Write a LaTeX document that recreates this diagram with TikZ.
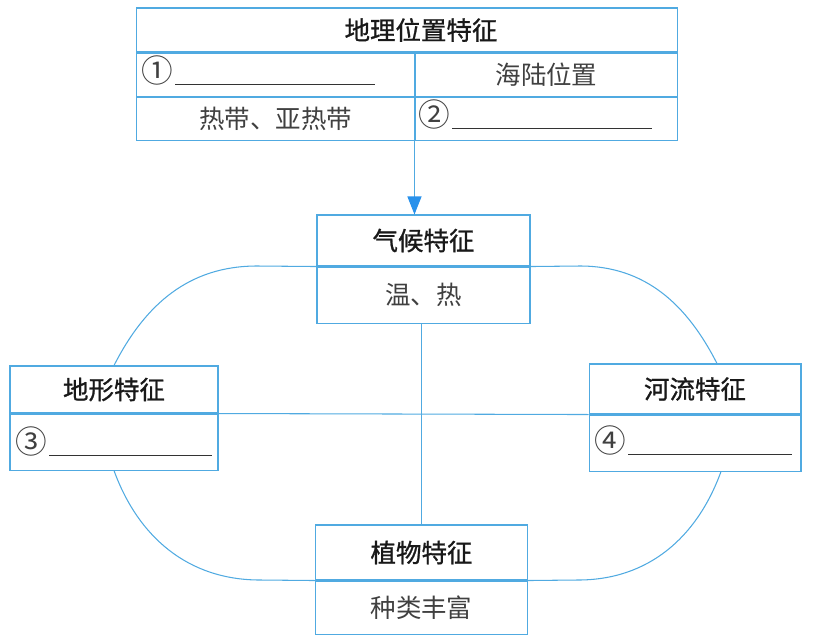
\documentclass[tikz,border=0pt]{standalone}
\usepackage{fontspec}
\usepackage{tikz}
\newfontfamily\cjk{Noto Sans CJK SC}
\newfontfamily\cjkhead{Noto Sans CJK SC}[FakeBold=1]
\usetikzlibrary{arrows.meta,positioning}
\definecolor{lineblue}{RGB}{80,170,225}
\definecolor{arrowblue}{RGB}{40,145,235}
\newcommand{\circnum}[1]{\makebox[0.62cm][l]{\raisebox{-0.04cm}{\fontsize{18}{18}\selectfont #1}}}
\newcommand{\blankline}[1]{\hspace{0.06cm}{\color{black!80}\rule[-0.1cm]{#1}{0.8pt}}}
\tikzset{
	cell/.style={draw=lineblue, line width=0.6pt, inner sep=0pt, minimum width=#1},
	headtxt/.style={font=\cjkhead\fontsize{14.5}{16}\selectfont, text=black!90},
	bodytxt/.style={font=\cjk\fontsize{14.5}{16}\selectfont, text=black!75},
	blank/.style={bodytxt, inner sep=0pt, anchor=base west},
	conn/.style={draw=lineblue, line width=0.6pt},
}

\begin{document}
\begin{tikzpicture}[x=0.02cm, y=0.02cm]
	\useasboundingbox (0,0) rectangle (825,-643);

	% 地理位置特征
	\node[cell=10.84cm, minimum height=0.88cm] (geo) at (407,-30) {};
	\node[headtxt] (geotitle) at (421,-30) {地理位置特征};
	\node[cell=5.58cm, minimum height=0.86cm, anchor=north west] (geoA) at (geo.south west) {};
	\node[cell=5.26cm, minimum height=0.86cm, anchor=north east, bodytxt] (geoB) at (geo.south east) {海陆位置};
	\node[cell=5.58cm, minimum height=0.86cm, anchor=north west, bodytxt] (geoC) at (geoA.south west) {热带、亚热带};
	\node[cell=5.26cm, minimum height=0.86cm, anchor=north east] (geoD) at (geoB.south east) {};
	\node[blank] (no1) at (141,-80) {\circnum{①}\blankline{4cm}};
	\node[blank] (no2) at (418,-124) {\circnum{②}\blankline{4cm}};

	% 气候特征
	\node[cell=4.26cm, minimum height=1.02cm, headtxt] (climA) at (423.5,-240.5) {气候特征};
	\node[cell=4.26cm, minimum height=1.12cm, below=0pt of climA, bodytxt] (climB) {温、热};

	% 地形特征
	\node[cell=4.16cm, minimum height=0.94cm, headtxt] (terrA) at (114,-389.5) {地形特征};
	\node[cell=4.16cm, minimum height=1.12cm, below=0pt of terrA] (terrB) {};
	\node[blank] (no3) at (15,-451) {\circnum{③}\blankline{3.26cm}};

	% 河流特征
	\node[cell=4.24cm, minimum height=1.0cm, headtxt] (rivA) at (695,-389) {河流特征};
	\node[cell=4.24cm, minimum height=1.12cm, below=0pt of rivA] (rivB) {};
	\node[blank] (no4) at (594,-450) {\circnum{④}\blankline{3.28cm}};

	% 植物特征
	\node[cell=4.24cm, minimum height=1.1cm, headtxt] (plantA) at (421.5,-552.5) {植物特征};
	\node[cell=4.24cm, minimum height=1.06cm, below=0pt of plantA, bodytxt] (plantB) {种类丰富};

	% connectors
	\coordinate (tl) at (257,-266);
	\coordinate (tr) at (580,-266);
	\coordinate (bl) at (260,-580);
	\coordinate (br) at (578,-580);
	\draw[conn, -{Triangle[width=0.28cm, length=0.36cm, color=arrowblue, fill=arrowblue]}]
		(geoD.south west) -- (geoD.south west |- climA.north);
	\draw[conn] (climA.south west) -- (tl) to[out=180, in=63] (terrA.north);
	\draw[conn] (climA.south east) -- (tr) to[out=0, in=117] ([xshift=0.44cm]rivA.north);
	\draw[conn] (terrB.south) to[out=-70, in=180] (bl) -- (plantA.south west);
	\draw[conn] ([xshift=0.52cm]rivB.south) to[out=-110, in=0] (br) -- (plantA.south east);
	\draw[conn] (terrA.south east) -- (rivA.south west);
	\draw[conn] (plantA.north |- climB.south) -- (plantA.north);
\end{tikzpicture}
\end{document}
